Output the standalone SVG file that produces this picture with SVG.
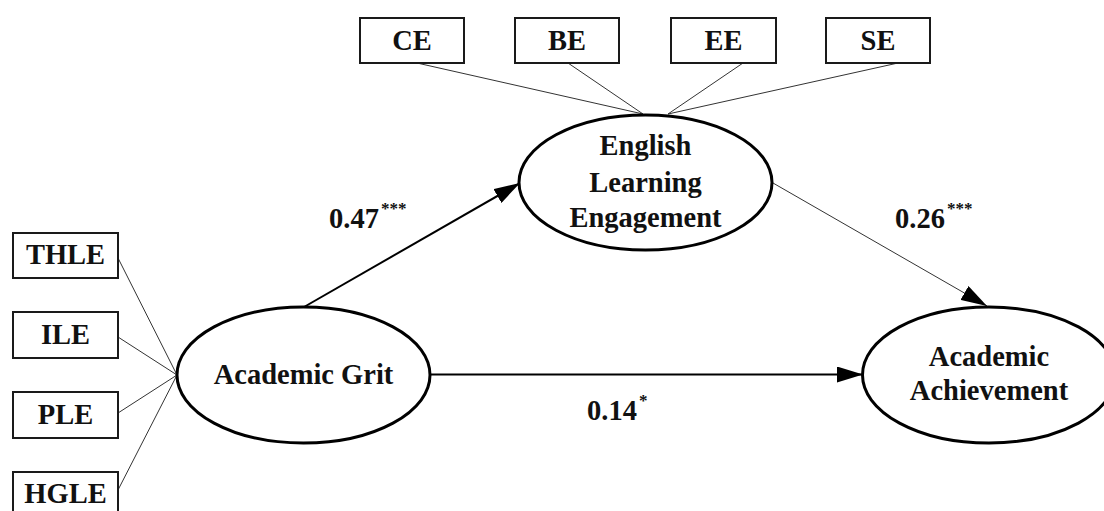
<svg xmlns="http://www.w3.org/2000/svg" width="1104" height="511" viewBox="0 0 1104 511">
  <style>
    .box { fill: #fff; stroke: #1a1a1a; stroke-width: 2; }
    .lat { fill: #fff; stroke: #000; stroke-width: 3; }
    .lbl { font-family: "Liberation Serif", "Times New Roman", serif; font-weight: bold; font-size: 28.5px; fill: #111; text-anchor: middle; }
    .coef { font-family: "Liberation Serif", "Times New Roman", serif; font-weight: bold; font-size: 28.5px; fill: #111; }
    .sig { font-size: 17px; }
    .load { stroke: #333; stroke-width: 1; fill: none; }
    .path-thick { stroke: #000; stroke-width: 2; fill: none; }
    .path-thin { stroke: #333; stroke-width: 1; fill: none; }
  </style>
  <defs>
    <marker id="arrow" markerUnits="userSpaceOnUse" markerWidth="26" markerHeight="16" refX="26" refY="8" orient="auto">
      <path d="M0,0 L26,8 L0,16 Z" fill="#000"/>
    </marker>
  </defs>
  <rect width="1104" height="511" fill="#fff"/>

  <!-- connectors: indicator loadings and structural paths -->
  <g id="connectors">
    <line class="load" x1="417" y1="63" x2="643" y2="114"/>
    <line class="load" x1="568" y1="63" x2="643" y2="114"/>
    <line class="load" x1="743" y1="63" x2="668" y2="114"/>
    <line class="load" x1="898" y1="63" x2="668" y2="114"/>
    <line class="load" x1="118" y1="258" x2="177" y2="375"/>
    <line class="load" x1="118" y1="337" x2="177" y2="375"/>
    <line class="load" x1="118" y1="413" x2="177" y2="375"/>
    <line class="load" x1="118" y1="490" x2="177" y2="375"/>
    <line class="path-thick" x1="304" y1="307" x2="520" y2="183" marker-end="url(#arrow)"/>
    <line class="path-thin" x1="773" y1="183" x2="987" y2="306" marker-end="url(#arrow)"/>
    <line class="path-thick" x1="430" y1="374.5" x2="863" y2="374.5" marker-end="url(#arrow)"/>
  </g>

  <!-- engagement indicators -->
  <g id="node-ce"><rect class="box" x="360" y="18" width="104" height="45"/><text class="lbl" x="412" y="50">CE</text></g>
  <g id="node-be"><rect class="box" x="515" y="18" width="104" height="45"/><text class="lbl" x="567" y="50">BE</text></g>
  <g id="node-ee"><rect class="box" x="671" y="18" width="105" height="45"/><text class="lbl" x="723.5" y="50">EE</text></g>
  <g id="node-se"><rect class="box" x="826" y="18" width="104" height="45"/><text class="lbl" x="878" y="50">SE</text></g>

  <!-- grit indicators -->
  <g id="node-thle"><rect class="box" x="13" y="233" width="105" height="45"/><text class="lbl" x="65.5" y="264">THLE</text></g>
  <g id="node-ile"><rect class="box" x="13" y="312" width="105" height="46"/><text class="lbl" x="65.5" y="344">ILE</text></g>
  <g id="node-ple"><rect class="box" x="13" y="392" width="105" height="46"/><text class="lbl" x="65.5" y="424">PLE</text></g>
  <g id="node-hgle"><rect class="box" x="13" y="472" width="105" height="46"/><text class="lbl" x="65.5" y="503">HGLE</text></g>

  <!-- latent constructs -->
  <g id="node-grit">
    <ellipse class="lat" cx="303.5" cy="375" rx="126.5" ry="68"/>
    <text class="lbl" x="303.5" y="384">Academic Grit</text>
  </g>
  <g id="node-engagement">
    <ellipse class="lat" cx="645.5" cy="182.5" rx="126.5" ry="67.5"/>
    <text class="lbl" x="645.5" y="155">English</text>
    <text class="lbl" x="645.5" y="192">Learning</text>
    <text class="lbl" x="645.5" y="227">Engagement</text>
  </g>
  <g id="node-achievement">
    <ellipse class="lat" cx="989" cy="375" rx="126.5" ry="68"/>
    <text class="lbl" x="989" y="366">Academic</text>
    <text class="lbl" x="989" y="400">Achievement</text>
  </g>

  <!-- path coefficients -->
  <g id="coefficients">
    <text class="coef" x="329" y="228">0.47<tspan class="sig" dx="2" dy="-14">***</tspan></text>
    <text class="coef" x="895" y="228">0.26<tspan class="sig" dx="2" dy="-14">***</tspan></text>
    <text class="coef" x="587" y="420">0.14<tspan class="sig" dx="2" dy="-14">*</tspan></text>
  </g>
</svg>
